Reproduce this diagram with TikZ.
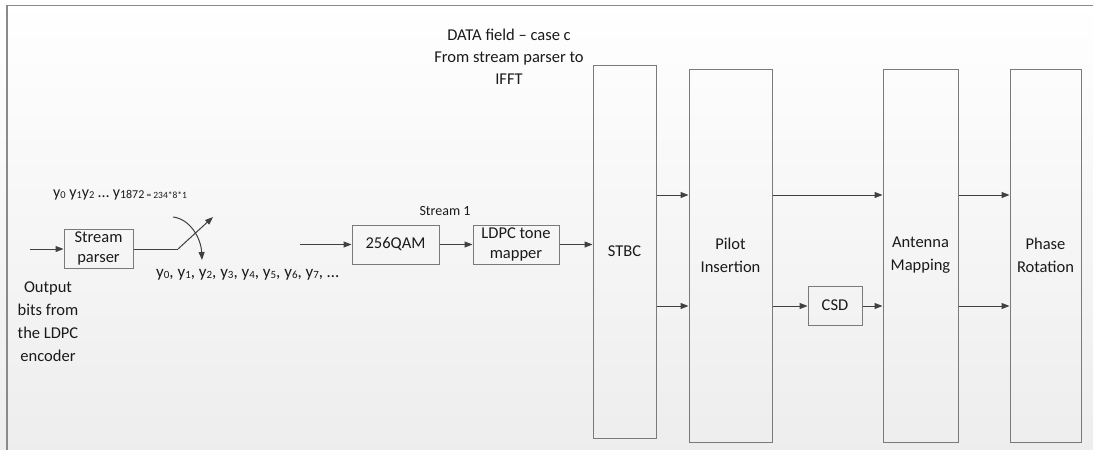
\documentclass[tikz,border=0pt]{standalone}
\usepackage{fontspec}
\setmainfont{Carlito}
\usetikzlibrary{arrows.meta}
\newcommand\sbx[2][11]{\raisebox{-1.2pt}{\fontsize{#1}{12}\selectfont #2}}
\definecolor{framegray}{HTML}{8A8A8A}
\definecolor{boxgray}{HTML}{7A7A7A}
\definecolor{arrgray}{HTML}{404040}
\definecolor{txt}{HTML}{1A1A1A}
\tikzset{
  blk/.style={draw=boxgray, line width=1pt, inner sep=0pt, align=center,
    font=\fontsize{16.5}{23}\selectfont, text=txt},
  arr/.style={draw=arrgray, line width=1pt, -{Triangle[length=8pt,width=6pt]}},
  lbl/.style={inner sep=0pt, align=center, font=\fontsize{16.5}{23}\selectfont, text=txt},
}
\begin{document}
\begin{tikzpicture}[x=1pt,y=-1pt]
\useasboundingbox (0,0) rectangle (1093,450);
\shade[top color=white, bottom color=black!7] (0,0) rectangle (1093,450);
\draw[framegray, line width=1.6pt] (7,450) -- (7,5.5) -- (1093,5.5);

% blocks
\node[blk, minimum width=69pt, minimum height=39pt] (sp) at (98.5,248.5) {Stream\\[-3pt]parser};
\node[blk, minimum width=87pt, minimum height=39pt] (qam) at (395.5,244.5) {256QAM};
\node[blk, minimum width=86pt, minimum height=39pt] (ldpc) at (516,244.5) {LDPC tone\\[-3pt]mapper};
\node[blk, minimum width=63pt, minimum height=373pt] (stbc) at (624.5,251.5) {STBC};
\node[blk, minimum width=83pt, minimum height=373pt] (pilot) at (730.5,255.5) {Pilot\\Insertion};
\node[blk, minimum width=75pt, minimum height=373pt] (ant) at (920.5,255.5) {Antenna\\Mapping};
\node[blk, minimum width=71pt, minimum height=373pt] (phase) at (1045.5,255.5) {Phase\\Rotation};
\node[blk, minimum width=54pt, minimum height=39pt] (csd) at (835,305.5) {CSD};

% labels
\node[lbl] (title) at (509,57) {DATA field -- case c\\[-1pt]From stream parser to\\[-1pt]IFFT};
\node[lbl, font=\fontsize{14}{17}\selectfont] (s1) at (445,211) {Stream 1};
\node[lbl] (out) at (48,322) {Output\\bits from\\the LDPC\\encoder};
\node[lbl, anchor=west, font=\fontsize{16}{19}\selectfont] (seqa) at (53,195)
  {y\sbx[10.5]{0} y\sbx[10.5]{1}y\sbx[10.5]{2} … y\sbx[12]{1872}\sbx[9.5]{ = 234*8*1}};
\node[lbl, anchor=west, font=\fontsize{17}{19}\selectfont] (seqb) at (156,275)
  {y\sbx{0}, y\sbx{1}, y\sbx{2}, y\sbx{3}, y\sbx{4}, y\sbx{5}, y\sbx{6}, y\sbx{7}, …};

% coordinates
\coordinate (in0) at (30,249);
\coordinate (sw0) at (178,249);
\coordinate (sw1) at (213,217);
\coordinate (cv0) at (173,217);
\coordinate (cv1) at (202,260);
\coordinate (qin) at (300,244.5);
\coordinate (r1) at (0,195);
\coordinate (r2) at (0,306);

% connectors
\draw[arr] (in0) -- (sp.west |- in0);
\draw[draw=arrgray, line width=1pt] (sp.east |- sw0) -- (sw0);
\draw[arr] (sw0) -- (sw1);
\draw[arr] (cv0) .. controls (190,219) and (201,238) .. (cv1);
\draw[arr] (qin) -- (qam.west);
\draw[arr] (qam.east) -- (ldpc.west);
\draw[arr] (ldpc.east) -- (ldpc.east -| stbc.west);
\draw[arr] (stbc.east |- r1) -- (pilot.west |- r1);
\draw[arr] (stbc.east |- r2) -- (pilot.west |- r2);
\draw[arr] (pilot.east |- r1) -- (ant.west |- r1);
\draw[arr] (pilot.east |- r2) -- (csd.west |- r2);
\draw[arr] (csd.east |- r2) -- (ant.west |- r2);
\draw[arr] (ant.east |- r1) -- (phase.west |- r1);
\draw[arr] (ant.east |- r2) -- (phase.west |- r2);
\end{tikzpicture}
\end{document}
